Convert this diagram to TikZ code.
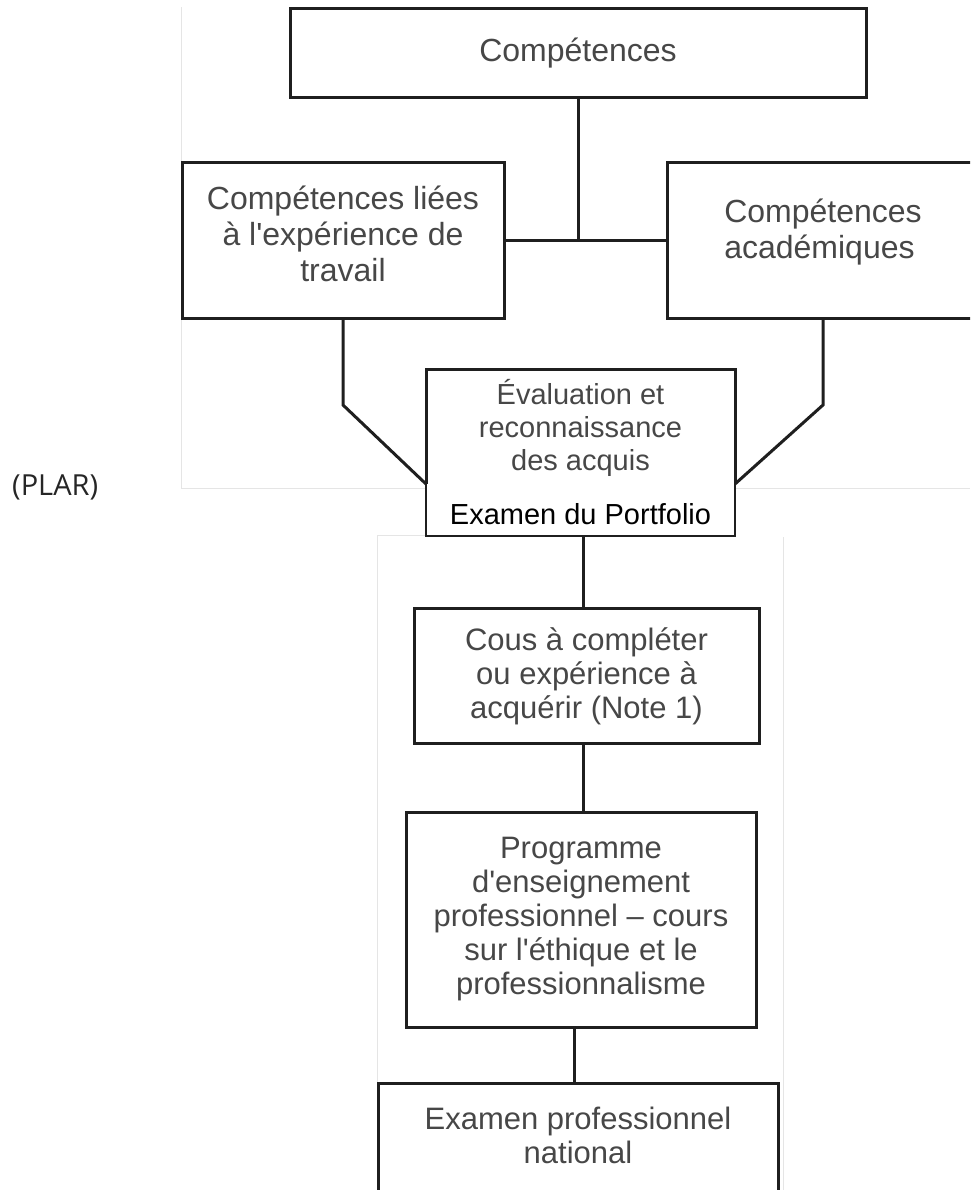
\documentclass[tikz,border=0pt]{standalone}
\usepackage{fontspec}
\setmainfont{Liberation Sans}
\newfontfamily\plarfont{Open Sans}
\usetikzlibrary{calc}
\newcommand\sq{\XeTeXglyph\XeTeXcharglyph"27\relax}
\begin{document}
\begin{tikzpicture}[x=1pt,y=-1pt,
  box/.style={draw=black!88, line width=3pt, rectangle, inner sep=0pt, outer sep=0pt, text=black!72, align=center},
  big/.style={font=\fontsize{32}{36}\selectfont},
  mid/.style={font=\fontsize{29}{33}\selectfont},
  small/.style={font=\fontsize{31}{34}\selectfont},
  link/.style={draw=black!88, line width=3pt},
  thinlink/.style={draw=black!88, line width=1.6pt},
  panel/.style={draw=black!10, line width=1pt}]
\useasboundingbox (0,0) rectangle (970,1190);
\clip (0,0) rectangle (970,1190);
% faint borders of the pasted panels
\draw[panel] (181,7) -- (181,488) -- (426,488);
\draw[panel] (735,488) -- (970,488);
\draw[panel] (426,535) -- (377,535) -- (377,1190);
\draw[panel] (783,537) -- (783,1190);
% boxes
\node[box,big,minimum width=576,minimum height=89] (top) at (578,53.5) {Compétences};
\node[box,big,minimum width=322,minimum height=155] (work) at (343,240.5) {Compétences liées\\à l\sq expérience de\\travail\\[-22pt]};
\node[box,big,minimum width=312,minimum height=155,align=left] (acad) at (823,240.5) {Compétences\\académiques\\[-12pt]};
\node[box,mid,draw=none,minimum width=309,minimum height=167] (eval) at (580.5,452.5)
  {Évaluation et\\reconnaissance\\des acquis\\[21pt]{\color{black}Examen du Portfolio}};
\node[box,small,minimum width=345,minimum height=135] (cous) at (586.5,675.5) {Cous à compléter\\ou expérience à\\acquérir (Note 1)\\[-30pt]};
\node[box,small,minimum width=350,minimum height=215] (prog) at (581,919.5) {Programme\\d\sq enseignement\\professionnel -- cours\\sur l\sq éthique et le\\professionnalisme};
\node[box,small,minimum width=400,minimum height=112] (exam) at (578,1139) {Examen professionnel\\national\\[-26pt]};
\node[font=\plarfont\fontsize{29}{34}\selectfont, text=black!85, anchor=west, inner sep=0pt] (plar) at (12,487) {(PLAR)};
% border of the evaluation box: thick upper part, thin lower part
\draw[thinlink] ([yshift=52pt]eval.south west) -- (eval.south west) -- (eval.south east) -- ([yshift=52pt]eval.south east);
\draw[link] ([yshift=52pt]eval.south west) -- (eval.north west) -- (eval.north east) -- ([yshift=52pt]eval.south east);
% connectors
\coordinate (junc) at (top.south |- work.east);
\draw[link] (top.south) -- (junc);
\draw[link] (work.east) -- (acad.west);
\draw[link] (work.south) -- ++(0,87) -- ([yshift=52pt]eval.south west);
\draw[link] (acad.south) -- ++(0,87) -- ([yshift=52pt]eval.south east);
\draw[link] ([xshift=2.5pt]eval.south) -- ([xshift=2.5pt]eval.south |- cous.north);
\draw[link] ([xshift=-3.5pt]cous.south) -- ([xshift=-3.5pt]cous.south |- prog.north);
\draw[link] ([xshift=-7pt]prog.south) -- ([xshift=-7pt]prog.south |- exam.north);
\end{tikzpicture}
\end{document}
